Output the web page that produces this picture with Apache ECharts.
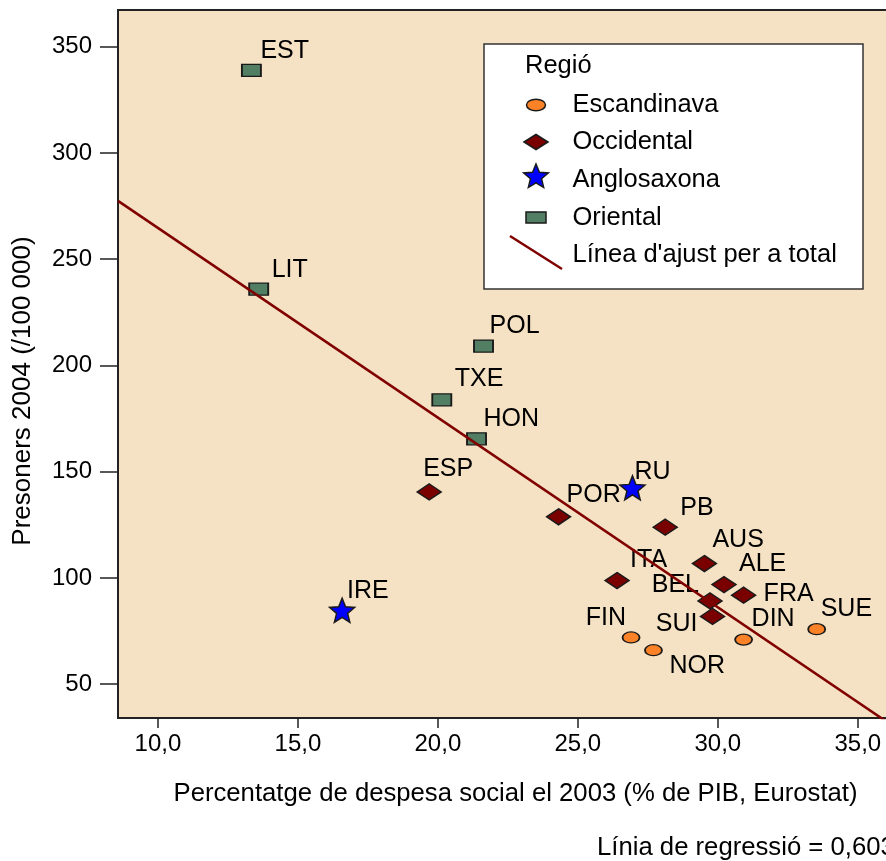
<!DOCTYPE html>
<html><head><meta charset="utf-8">
<script src="https://cdn.jsdelivr.net/npm/echarts@6/dist/echarts.min.js"></script>
<style>html,body{margin:0;padding:0;background:#fff}#c{width:886px;height:861px}</style>
</head><body><div id="c"></div>
<script>
// ---------- data ----------
const escNames = ['FIN', 'NOR', 'DIN', 'SUE'];
const escX = [26.90, 27.70, 30.92, 33.53];
const escY = [72.0, 66.0, 71.0, 75.9];

const occNames = ['ESP', 'POR', 'PB', 'AUS', 'ITA', 'ALE', 'FRA', 'BEL', 'SUI'];
const occX = [19.69, 24.31, 28.12, 29.52, 26.40, 30.22, 30.92, 29.72, 29.81];
const occY = [140.5, 128.8, 123.9, 106.8, 98.8, 96.9, 91.9, 89.2, 81.9];

const angNames = ['RU', 'IRE'];
const angX = [26.95, 16.58];
const angY = [142.4, 84.8];

const oriNames = ['EST', 'LIT', 'POL', 'TXE', 'HON'];
const oriX = [13.34, 13.60, 21.63, 20.14, 21.38];
const oriY = [338.9, 235.9, 209.1, 183.8, 165.5];

const xTicks = [10, 15, 20, 25, 30, 35];
const xTickLabels = ['10,0', '15,0', '20,0', '25,0', '30,0', '35,0'];
const yTicks = [50, 100, 150, 200, 250, 300, 350];
const yTickLabels = ['50', '100', '150', '200', '250', '300', '350'];

const regionNames = ['Escandinava', 'Occidental', 'Anglosaxona', 'Oriental'];
const fitName = "Línea d'ajust per a total";
const legendTitle = 'Regió';
const xTitle = 'Percentatge de despesa social el 2003 (% de PIB, Eurostat)';
const yTitle = 'Presoners 2004 (/100 000)';
const caption = 'Línia de regressió = 0,603';

// ---------- styles / layout ----------
const FONT = "'Liberation Sans', Arial, Helvetica, sans-serif";
const X_MIN = 8.575, X_MAX = 36.72, Y_MIN = 34.1, Y_MAX = 367.3;
const BG = '#F5E1C3';
const C_ESC = '#FB8226', C_OCC = '#7A0000', C_ANG = '#0000FF', C_ORI = '#527F63', C_FIT = '#800000';
const EDGE = '#1a1a1a';

// label placement relative to marker centre: [dx, dy, align]
const labelPlace = {
  EST: [9, -19, 'left'], LIT: [13, -19, 'left'], POL: [6, -20, 'left'], TXE: [13, -21, 'left'],
  HON: [7, -20, 'left'], ESP: [-6, -23, 'left'], POR: [8, -22, 'left'], RU: [2, -16, 'left'],
  PB: [15, -19, 'left'], AUS: [8, -23, 'left'], ITA: [13, -20, 'left'], ALE: [15, -20, 'left'],
  FRA: [20, -1, 'left'], BEL: [-11, -16, 'right'], SUI: [-15, 8, 'right'], FIN: [-5, -19, 'right'],
  NOR: [16, 16, 'left'], DIN: [8, -20, 'left'], SUE: [4, -20, 'left'], IRE: [5, -19, 'left']
};

function starPoints(cx, cy, R, r) {
  const pts = [];
  for (let i = 0; i < 10; i++) {
    const a = -Math.PI / 2 + i * Math.PI / 5;
    const rr = i % 2 === 0 ? R : r;
    pts.push([cx + rr * Math.cos(a), cy + rr * Math.sin(a)]);
  }
  return pts;
}
const starPath = 'path://' + starPoints(50, 50, 50, 22).map((p, i) => (i ? 'L' : 'M') + p[0].toFixed(2) + ',' + p[1].toFixed(2)).join(' ') + ' Z';

function buildData(names, xs, ys) {
  return names.map((n, i) => {
    const p = labelPlace[n] || [6, -20, 'left'];
    return {
      name: n, value: [xs[i], ys[i]],
      label: { offset: [p[0], p[1]], align: p[2] }
    };
  });
}

// least-squares fit over all points
const allX = [].concat(escX, occX, angX, oriX);
const allY = [].concat(escY, occY, angY, oriY);
const n = allX.length;
const mx = allX.reduce((a, b) => a + b, 0) / n;
const my = allY.reduce((a, b) => a + b, 0) / n;
let sxy = 0, sxx = 0;
for (let i = 0; i < n; i++) { sxy += (allX[i] - mx) * (allY[i] - my); sxx += (allX[i] - mx) ** 2; }
const slope = sxy / sxx, intercept = my - slope * mx;
const fitData = [[X_MIN, intercept + slope * X_MIN], [X_MAX, intercept + slope * X_MAX]];

const labelBase = {
  show: true, position: 'inside', formatter: '{b}', color: '#000',
  fontFamily: FONT, fontSize: 25, verticalAlign: 'middle'
};

function scatter(name, data, symbol, size, color) {
  return {
    name, type: 'scatter', data, symbol, symbolSize: size, z: 3,
    itemStyle: { color, borderColor: EDGE, borderWidth: 1.5, opacity: 1 },
    label: labelBase, emphasis: { disabled: true }, animation: false
  };
}

// ---------- legend (drawn as graphics) ----------
const LX = 536, LT = 572.5;
const LFONT = '25.5px ' + FONT;
const legendRows = [105, 142, 180, 217.5, 255];
const legendGraphics = [
  { type: 'rect', shape: { x: 484, y: 44, width: 379, height: 245 }, style: { fill: '#fff', stroke: '#333', lineWidth: 1.5 }, z: 10 },
  { type: 'text', x: 525, y: 66, style: { text: legendTitle, font: LFONT, fill: '#000', verticalAlign: 'middle' }, z: 11 },
  { type: 'ellipse', shape: { cx: LX, cy: legendRows[0], rx: 9.5, ry: 5.8 }, style: { fill: C_ESC, stroke: EDGE, lineWidth: 1.5 }, z: 11 },
  { type: 'polygon', shape: { points: [[LX - 12, legendRows[1]], [LX, legendRows[1] - 7.5], [LX + 12, legendRows[1]], [LX, legendRows[1] + 7.5]] }, style: { fill: C_OCC, stroke: EDGE, lineWidth: 1.5 }, z: 11 },
  { type: 'polygon', shape: { points: starPoints(LX, legendRows[2] - 3, 13, 5.8) }, style: { fill: C_ANG, stroke: EDGE, lineWidth: 1.5 }, z: 11 },
  { type: 'rect', shape: { x: LX - 10, y: legendRows[3] - 5.5, width: 20, height: 11 }, style: { fill: C_ORI, stroke: EDGE, lineWidth: 1.5 }, z: 11 },
  { type: 'line', shape: { x1: 510, y1: 236, x2: 562, y2: 269 }, style: { stroke: C_FIT, lineWidth: 2.5 }, z: 11 }
];
const legendLabels = regionNames.concat([fitName]);
legendLabels.forEach((t, i) => {
  legendGraphics.push({ type: 'text', x: LT, y: legendRows[i], style: { text: t, font: LFONT, fill: '#000', verticalAlign: 'middle' }, z: 11 });
});

const titleGraphics = [
  { type: 'text', x: 515.5, y: 794, style: { text: xTitle, font: '25.7px ' + FONT, fill: '#000', align: 'center', verticalAlign: 'middle' } },
  { type: 'text', x: 23, y: 391, rotation: Math.PI / 2, style: { text: yTitle, font: '26px ' + FONT, fill: '#000', align: 'center', verticalAlign: 'middle' } },
  { type: 'text', x: 597, y: 848, style: { text: caption, font: '25.7px ' + FONT, fill: '#000', align: 'left', verticalAlign: 'middle' } }
];

const chart = echarts.init(document.getElementById('c'), null, { renderer: 'canvas' });
chart.setOption({
  animation: false,
  backgroundColor: '#fff',
  textStyle: { fontFamily: FONT },
  grid: {
    left: 118, top: 10, right: -20, bottom: 143,
    show: true, backgroundColor: BG, borderColor: '#222', borderWidth: 2,
    containLabel: false, outerBoundsMode: 'none'
  },
  xAxis: {
    type: 'value', min: X_MIN, max: X_MAX,
    splitLine: { show: false },
    axisLine: { show: true, onZero: false, lineStyle: { color: '#222', width: 2 } },
    axisTick: { show: true, length: 10, customValues: xTicks, lineStyle: { color: '#222', width: 1.5 } },
    axisLabel: {
      customValues: xTicks, margin: 14, color: '#000', fontSize: 24, fontFamily: FONT,
      formatter: v => { const i = xTicks.indexOf(Math.round(v)); return i >= 0 ? xTickLabels[i] : ''; }
    }
  },
  yAxis: {
    type: 'value', min: Y_MIN, max: Y_MAX,
    splitLine: { show: false },
    axisLine: { show: true, onZero: false, lineStyle: { color: '#222', width: 2 } },
    axisTick: { show: true, length: 18, customValues: yTicks, lineStyle: { color: '#222', width: 1.5 } },
    axisLabel: {
      customValues: yTicks, margin: 26, color: '#000', fontSize: 24, fontFamily: FONT,
      formatter: v => { const i = yTicks.indexOf(Math.round(v)); return i >= 0 ? yTickLabels[i] : ''; }
    }
  },
  series: [
    scatter(regionNames[0], buildData(escNames, escX, escY), 'circle', [17, 11], C_ESC),
    scatter(regionNames[1], buildData(occNames, occX, occY), 'diamond', [24, 16], C_OCC),
    scatter(regionNames[2], buildData(angNames, angX, angY), starPath, [25, 24], C_ANG),
    scatter(regionNames[3], buildData(oriNames, oriX, oriY), 'rect', [19, 12], C_ORI),
    {
      name: fitName, type: 'line', data: fitData, symbol: 'none', clip: true, z: 4,
      lineStyle: { color: C_FIT, width: 2.5 }, emphasis: { disabled: true }, silent: true
    }
  ],
  graphic: titleGraphics.concat(legendGraphics)
});
</script>
</body></html>
